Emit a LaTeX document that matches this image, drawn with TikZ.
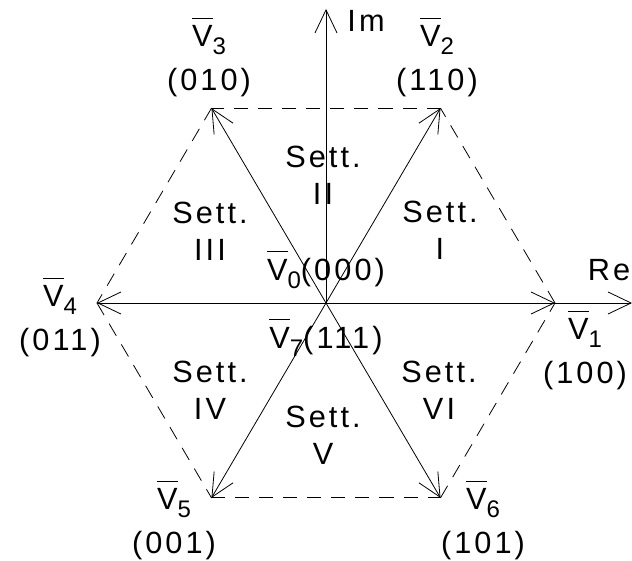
\documentclass[tikz,border=0pt]{standalone}
\usepackage{fontspec}
\setmainfont{Liberation Sans}[LetterSpace=10]
\usetikzlibrary{arrows.meta}

\newcommand{\vbar}[1]{$\overline{\mbox{\rule{0pt}{27pt}V}}$\raisebox{-8pt}{\fontsize{24}{24}\selectfont#1}}

\begin{document}
\begin{tikzpicture}[x=1pt,y=1pt,
  vec/.style={-{Straight Barb[length=23pt,width=22pt]},line width=0.8pt},
  hexside/.style={dash pattern=on 14pt off 10pt,line width=0.8pt},
  vlab/.style={align=center,inner sep=0pt,font=\fontsize{30.7}{44}\selectfont},
  slab/.style={align=center,inner sep=0pt,font=\fontsize{30.7}{37}\selectfont}]
\useasboundingbox (-326,-257) rectangle (306,303);

\coordinate (o) at (0,0);
\foreach \k/\a in {1/0, 2/60, 3/120, 4/180, 5/240, 6/300} \coordinate (v\k) at (\a:229 and 225);
\coordinate (re) at (306,0);
\coordinate (im) at (0,294);

% hexagon
\foreach \a/\b in {1/2, 2/3, 3/4, 4/5, 5/6, 6/1} \draw[hexside] (v\a) -- (v\b);
% space vectors and axes
\foreach \k in {1,...,6} \draw[vec] (o) -- (v\k);
\draw[vec] (o) -- (re);
\draw[vec] (o) -- (im);
\node[vlab] (imlab) at (40,282) {Im};
\node[vlab] (relab) at (283,33) {Re};

\foreach \k/\x/\y/\c in {1/259/-47/100, 2/111/246/110, 3/-117/246/010, 4/-266/-14/011, 5/-152/-217/001, 6/157/-217/101}
  \node[vlab] (lab\k) at (\x,\y) {\vbar{\k}\\(\c)};
\node[vlab,anchor=base] (lab0) at (0,23) {\vbar{0}(000)};
\node[vlab,anchor=base] (lab7) at (0,-45) {\vbar{7}(111)};

% sectors
\foreach \n/\x/\y/\r in {1/114/73/I, 2/-3/128/II, 3/-116/72/III, 4/-116/-87/IV, 5/-3/-132/V, 6/113/-87/VI}
  \node[slab] (sett\n) at (\x,\y) {Sett.\\\r};
\end{tikzpicture}
\end{document}
